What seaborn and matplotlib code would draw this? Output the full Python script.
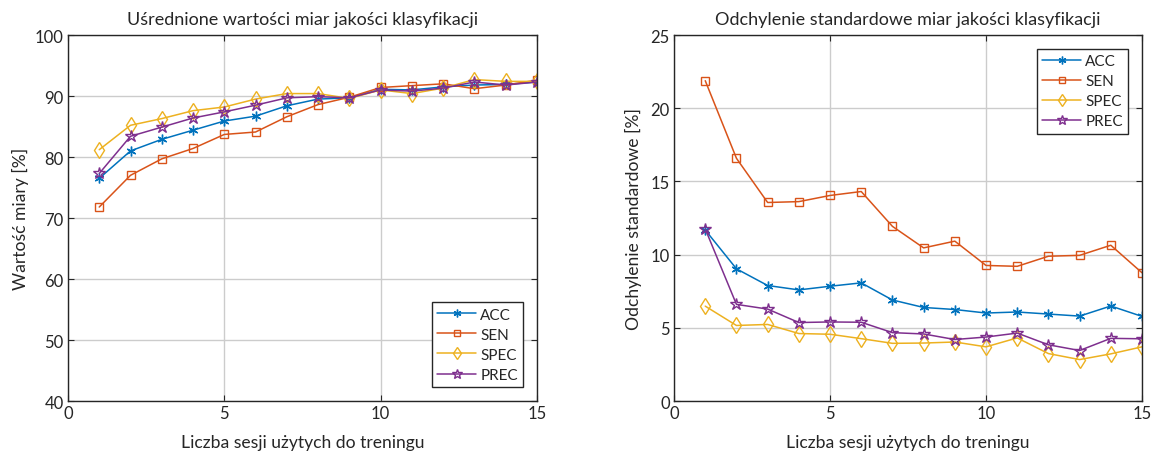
import seaborn as sns
import pandas as pd
import matplotlib.pyplot as plt

#%% Data
sessions = list(range(1, 16))
names = ["ACC", "SEN", "SPEC", "PREC"]

mean_acc = [76.5, 81.0, 82.9, 84.4, 85.9, 86.7, 88.4, 89.5, 89.7, 91.1, 91.0, 91.5, 91.8, 91.9, 92.3]
mean_sen = [71.8, 77.0, 79.7, 81.4, 83.7, 84.1, 86.6, 88.6, 89.8, 91.4, 91.7, 92.0, 91.2, 91.8, 92.6]
mean_spec = [81.2, 85.2, 86.3, 87.6, 88.2, 89.5, 90.4, 90.4, 89.6, 91.0, 90.4, 91.3, 92.7, 92.4, 92.4]
mean_prec = [77.3, 83.4, 84.9, 86.4, 87.4, 88.5, 89.7, 89.9, 89.7, 91.0, 90.8, 91.3, 92.3, 91.8, 92.3]

std_acc = [11.68, 9.03, 7.89, 7.59, 7.84, 8.07, 6.90, 6.39, 6.25, 6.01, 6.08, 5.94, 5.80, 6.49, 5.78]
std_sen = [21.88, 16.58, 13.56, 13.62, 14.04, 14.31, 11.93, 10.46, 10.92, 9.26, 9.20, 9.89, 9.95, 10.64, 8.76]
std_spec = [6.48, 5.16, 5.23, 4.61, 4.56, 4.26, 3.94, 3.96, 4.03, 3.70, 4.31, 3.24, 2.83, 3.22, 3.70]
std_prec = [11.75, 6.60, 6.28, 5.36, 5.40, 5.38, 4.67, 4.58, 4.20, 4.37, 4.64, 3.84, 3.45, 4.28, 4.25]

means = [mean_acc, mean_sen, mean_spec, mean_prec]
stds = [std_acc, std_sen, std_spec, std_prec]

#%% Styling (MATLAB-like)
sns.set_style("ticks")
plt.rcParams['font.family'] = ['Lato', 'DejaVu Sans']

colors = ["#0072BD", "#D95319", "#EDB120", "#7E2F8E"]
markers = [(6, 2, 0), "s", "d", "*"]
msizes = [7, 6, 8, 9]

fig = plt.figure(figsize=(11.54, 4.52), dpi=100)
ax1 = fig.add_axes([0.0589, 0.1106, 0.4064, 0.8097])
ax2 = fig.add_axes([0.5841, 0.1106, 0.4055, 0.8097])


def draw(ax, series):
    for name, vals, c, m, s in zip(names, series, colors, markers, msizes):
        df = pd.DataFrame({"sessions": sessions, "value": vals})
        sns.lineplot(data=df, x="sessions", y="value", ax=ax, color=c,
                     marker=m, markersize=s, markerfacecolor="none",
                     markeredgecolor=c, markeredgewidth=1.0, lw=1.1,
                     label=name)


draw(ax1, means)
draw(ax2, stds)

for ax in (ax1, ax2):
    ax.set_xlim(0, 15)
    ax.set_xticks([0, 5, 10, 15])
    ax.grid(True, color="#cccccc", lw=1)
    ax.set_axisbelow(True)
    ax.tick_params(direction="in", top=True, right=True, labelsize=12,
                   length=4, color="#262626", pad=3)
    for sp in ax.spines.values():
        sp.set_color("#262626")
        sp.set_linewidth(1.0)
    ax.set_xlabel("Liczba sesji użytych do treningu", fontsize=12.6, labelpad=9)

ax1.set_ylim(40, 100)
ax1.set_yticks(range(40, 101, 10))
ax1.set_ylabel("Wartość miary [%]", fontsize=12.6, labelpad=4)
ax1.set_title("Uśrednione wartości miar jakości klasyfikacji", fontsize=13, pad=8)

ax2.set_ylim(0, 25)
ax2.set_yticks(range(0, 26, 5))
ax2.set_ylabel("Odchylenie standardowe [%]", fontsize=12.6, labelpad=6)
ax2.set_title("Odchylenie standardowe miar jakości klasyfikacji", fontsize=13, pad=8)

for ax, loc in ((ax1, "lower right"), (ax2, "upper right")):
    leg = ax.legend(loc=loc, fontsize=11, fancybox=False, framealpha=1,
                    edgecolor="#262626", handlelength=2.5, borderaxespad=0.9,
                    labelspacing=0.4, markerscale=0.8, handletextpad=0.3,
                    borderpad=0.35)
    leg.get_frame().set_linewidth(1.0)

plt.savefig("out.png", dpi=100)
